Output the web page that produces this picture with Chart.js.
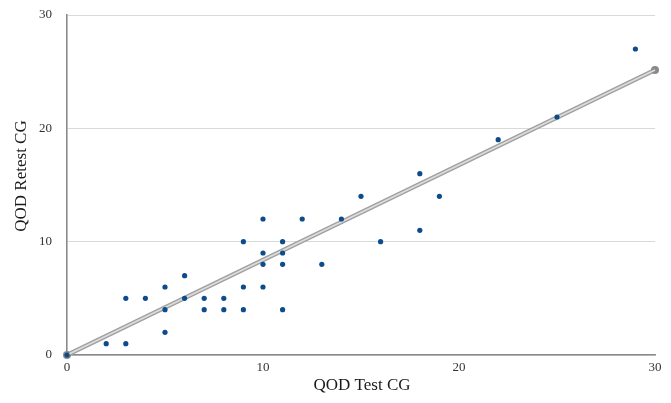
<!DOCTYPE html>
<html>
<head>
<meta charset="utf-8">
<script src="https://cdn.jsdelivr.net/npm/chart.js@4/dist/chart.umd.min.js"></script>
<style>
html,body{margin:0;padding:0;background:#fff;}
#wrap{width:671px;height:403px;}
</style>
</head>
<body>
<div id="wrap"><canvas id="c" width="671" height="403"></canvas></div>
<script>
const testCG   = [0,2,3,3,4,5,5,5,6,6,7,7,8,8,9,9,9,10,10,10,10,11,11,11,11,12,13,14,15,16,18,18,19,22,25,29];
const retestCG = [0,1,1,5,5,6,4,2,7,5,5,4,5,4,10,6,4,12,9,8,6,10,9,8,4,12,8,12,14,10,16,11,14,19,21,27];
const trendX = [0, 30];
const trendY = [0, 25.15];
const axisTicks = [0, 10, 20, 30];
const xTitle = 'QOD Test CG';
const yTitle = 'QOD Retest CG';

const points = testCG.map((x, i) => ({x: x, y: retestCG[i]}));
const trend = trendX.map((x, i) => ({x: x, y: trendY[i]}));

const FONT = '"Liberation Serif", "Times New Roman", serif';

const titlePlugin = {
  id: 'axisTitles',
  afterDraw(chart) {
    const ctx = chart.ctx;
    ctx.save();
    ctx.fillStyle = '#1a1a1a';
    ctx.font = '17px ' + FONT;
    ctx.textAlign = 'center';
    ctx.textBaseline = 'middle';
    ctx.fillText(xTitle, 362, 386);
    ctx.translate(22, 176);
    ctx.rotate(-Math.PI / 2);
    ctx.fillText(yTitle, 0, 0);
    ctx.restore();
  }
};

new Chart(document.getElementById('c'), {
  type: 'scatter',
  data: {
    datasets: [
      {
        label: 'points',
        data: points,
        order: 0,
        clip: false,
        pointRadius: 2.6,
        pointBorderWidth: 0,
        pointBackgroundColor: '#0d4c8a',
        pointBorderColor: '#0d4c8a'
      },
      {
        label: 'trend-inner',
        type: 'line',
        data: trend,
        order: 1,
        clip: false,
        borderColor: '#dcdcdc',
        borderWidth: 1.8,
        pointRadius: 0,
        fill: false
      },
      {
        label: 'trend-outer',
        type: 'line',
        data: trend,
        order: 2,
        clip: false,
        borderColor: '#a0a0a0',
        borderWidth: 4.5,
        pointRadius: 4,
        pointBorderWidth: 0,
        pointBackgroundColor: '#8a8a8a',
        fill: false
      }
    ]
  },
  options: {
    responsive: false,
    devicePixelRatio: 1,
    animation: false,
    layout: { padding: { top: 15, right: 16, left: 0, bottom: 0 } },
    plugins: { legend: { display: false }, tooltip: { enabled: false } },
    scales: {
      x: {
        type: 'linear',
        min: 0, max: 30,
        afterFit(s) { s.height = 48; s.paddingLeft = 0; s.paddingRight = 0; },
        afterBuildTicks(s) { s.ticks = axisTicks.map(v => ({value: v})); },
        grid: { display: false, drawTicks: false },
        border: { display: true, color: '#8a8a8a', width: 1.6 },
        ticks: {
          padding: 5,
          color: '#333333',
          font: { family: FONT, size: 13 }
        }
      },
      y: {
        type: 'linear',
        min: 0, max: 30,
        afterFit(s) { s.width = 67; s.paddingTop = 0; s.paddingBottom = 0; },
        afterBuildTicks(s) { s.ticks = axisTicks.map(v => ({value: v})); },
        grid: { color: '#d9d9d9', lineWidth: 1, drawTicks: false },
        border: { display: true, color: '#8a8a8a', width: 1.6 },
        ticks: {
          padding: 15,
          color: '#333333',
          font: { family: FONT, size: 13 }
        }
      }
    }
  },
  plugins: [titlePlugin]
});
</script>
</body>
</html>
